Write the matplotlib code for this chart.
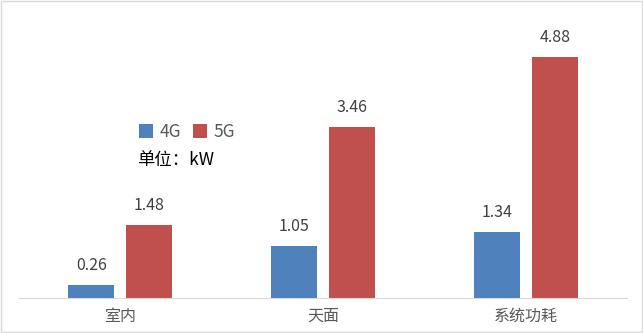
import numpy as np
import matplotlib
matplotlib.use("Agg")
import matplotlib.pyplot as plt
from matplotlib.patches import Rectangle

plt.rcParams['font.family'] = ['Noto Sans CJK SC', 'DejaVu Sans']

categories = ['室内', '天面', '系统功耗']
series_names = ['4G', '5G']
vals_4g = [0.26, 1.05, 1.34]
vals_5g = [1.48, 3.46, 4.88]
colors = ['#4F81BD', '#C0504D']

fig = plt.figure(figsize=(6.43, 3.33), dpi=100)
ax = fig.add_axes([19/643, 35/333, 608/643, 278/333])

x = np.arange(len(categories))
w = 0.227
off = 0.143
b1 = ax.bar(x - off, vals_4g, w, color=colors[0], label=series_names[0])
b2 = ax.bar(x + off, vals_5g, w, color=colors[1], label=series_names[1])

for bars, vals in [(b1, vals_4g), (b2, vals_5g)]:
    for r, v in zip(bars, vals):
        ax.annotate(f'{v:.2f}', (r.get_x() + r.get_width()/2, v),
                    xytext=(0, 8), textcoords='offset points',
                    ha='center', va='bottom', fontsize=11.5, color='#404040')

ax.set_xlim(-0.5, 2.5)
ax.set_ylim(0, 5.63)
ax.set_xticks(x)
ax.set_xticklabels(categories, fontsize=11.5, color='#595959')
ax.tick_params(axis='x', length=0, pad=7)
ax.set_yticks([])
for s in ['top', 'right', 'left']:
    ax.spines[s].set_visible(False)
ax.spines['bottom'].set_color('#D9D9D9')

leg = ax.legend(loc='center left', bbox_to_anchor=(104/608, (298-132)/278),
                ncol=2, frameon=False, fontsize=12.5, handlelength=0.8,
                handleheight=0.8, columnspacing=0.7, handletextpad=0.4,
                labelcolor='#595959')
fig.text(137/643, 1 - 160/333, '单位：kW', fontsize=12.5, color='#000000',
         ha='left', va='center')

fig.patches.append(Rectangle((0.002, 0.003), 0.996, 0.994, transform=fig.transFigure,
                             fill=False, edgecolor='#D9D9D9', linewidth=1))

fig.savefig('out.png', dpi=100)
